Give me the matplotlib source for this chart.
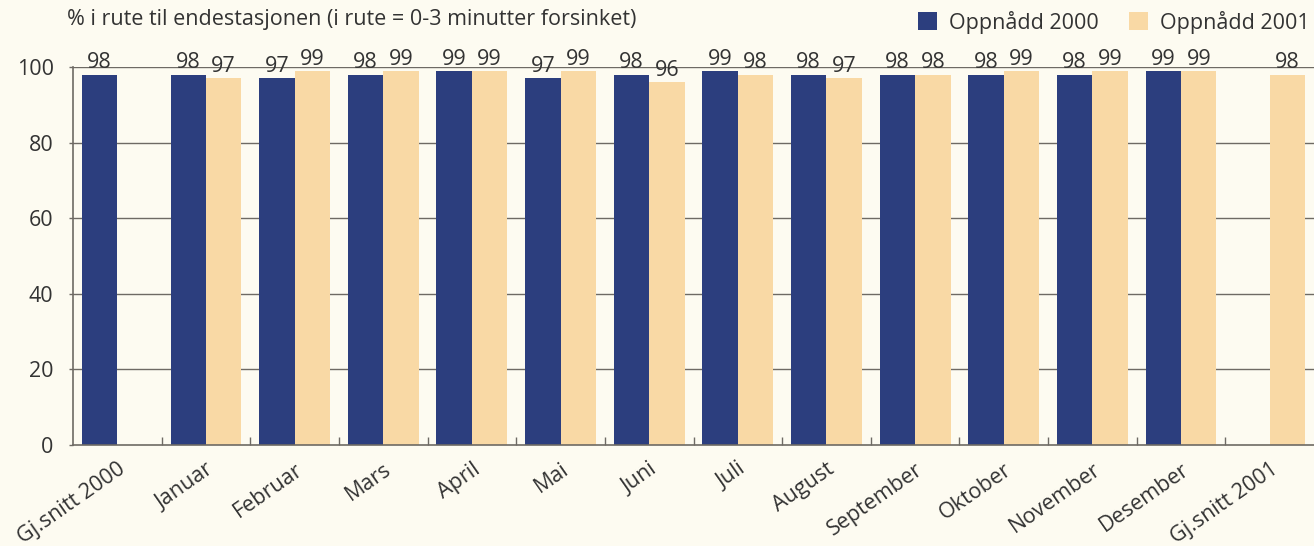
import matplotlib
matplotlib.use("Agg")
import matplotlib.pyplot as plt
import numpy as np

categories = ["Gj.snitt 2000", "Januar", "Februar", "Mars", "April", "Mai", "Juni",
              "Juli", "August", "September", "Oktober", "November", "Desember", "Gj.snitt 2001"]
oppnadd_2000 = [98, 98, 97, 98, 99, 97, 98, 99, 98, 98, 98, 98, 99, None]
oppnadd_2001 = [None, 97, 99, 99, 99, 99, 96, 98, 97, 98, 99, 99, 99, 98]
series_names = ["Oppnådd 2000", "Oppnådd 2001"]
yticks = [0, 20, 40, 60, 80, 100]
title = "% i rute til endestasjonen (i rute = 0-3 minutter forsinket)"

BLUE = "#2c3e7e"
TAN = "#f9d9a5"
BG = "#fdfbf1"
TXT = "#333333"
GRID = "#6e6a64"
FS = 15.5

plt.rcParams['font.family'] = ['Open Sans', 'DejaVu Sans']

fig = plt.figure(figsize=(13.14, 5.46), dpi=100, facecolor=BG)
ax = fig.add_axes([73 / 1314, 101 / 546, 1 - 73 / 1314, (445 - 67) / 546])
ax.set_facecolor(BG)

x = np.arange(len(categories))
w = 0.4
b_idx = [i for i, v in enumerate(oppnadd_2000) if v is not None]
t_idx = [i for i, v in enumerate(oppnadd_2001) if v is not None]
b_vals = [oppnadd_2000[i] for i in b_idx]
t_vals = [oppnadd_2001[i] for i in t_idx]

bars_b = ax.bar(x[b_idx] - w / 2, b_vals, width=w, color=BLUE, zorder=2, label=series_names[0])
bars_t = ax.bar(x[t_idx] + w / 2, t_vals, width=w, color=TAN, zorder=2, label=series_names[1])

for bars, vals in ((bars_b, b_vals), (bars_t, t_vals)):
    for r, v in zip(bars, vals):
        ax.text(r.get_x() + r.get_width() / 2, v + 0.3, f"{v}", ha="center", va="bottom",
                fontsize=FS, color=TXT, clip_on=False, zorder=4)

ax.set_xlim(-0.5, len(categories) - 0.5)
ax.set_ylim(0, 100)
ax.set_yticks(yticks)
ax.set_yticklabels([str(t) for t in yticks], fontsize=FS, color=TXT)
ax.tick_params(axis="y", length=3, width=1, color=GRID, pad=11)
for t in yticks[1:]:
    ax.axhline(t, color=GRID, lw=1, zorder=1)

ax.set_xticks(x)
ax.set_xticklabels(categories, rotation=35, ha="right", rotation_mode="anchor",
                   fontsize=FS, color=TXT)
ax.tick_params(axis="x", which="major", length=0, pad=10)
ax.set_xticks(x[:-1] + 0.5, minor=True)
ax.tick_params(axis="x", which="minor", direction="in", length=6, width=1, color=GRID)

for s in ("top", "right"):
    ax.spines[s].set_visible(False)
for s in ("left", "bottom"):
    ax.spines[s].set_color(GRID)
    ax.spines[s].set_linewidth(1.2)

fig.text(67 / 1314, 1 - 20 / 546, title, ha="left", va="center", fontsize=FS, color=TXT)

leg = fig.legend(handles=[bars_b, bars_t], labels=series_names, ncol=2, frameon=False,
                 loc="center left", bbox_to_anchor=(918 / 1314, 1 - 22 / 546),
                 handlelength=0.9, handleheight=0.9, handletextpad=0.55, columnspacing=1.4,
                 fontsize=FS, labelcolor=TXT, borderaxespad=0, borderpad=0)

fig.savefig("out.png", dpi=100, facecolor=BG)
